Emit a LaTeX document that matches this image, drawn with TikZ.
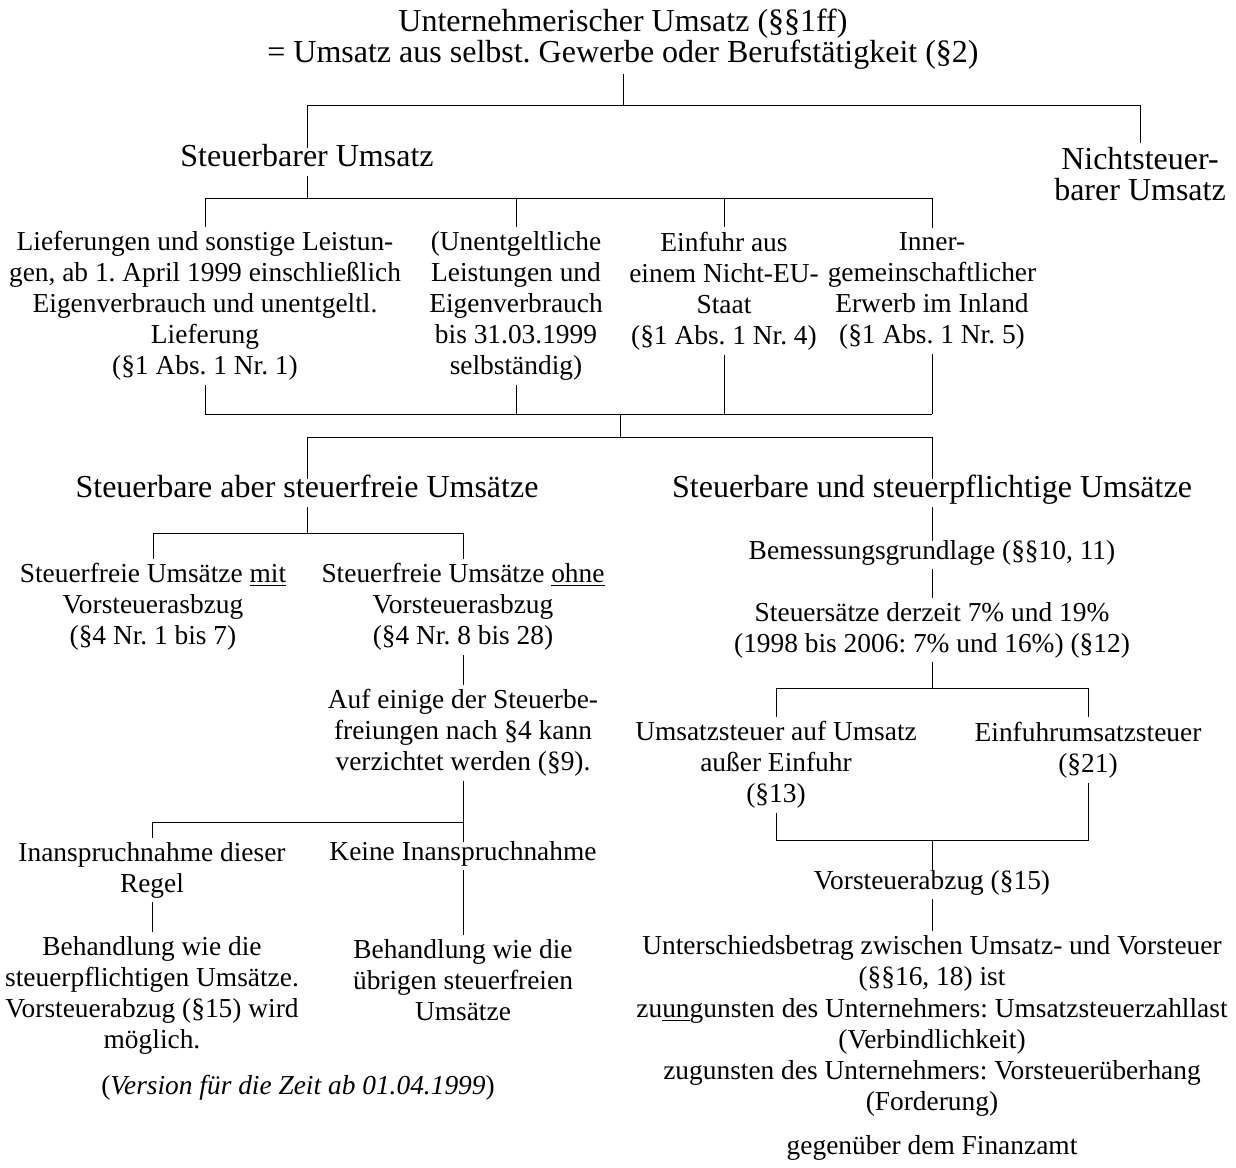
\documentclass[tikz,border=0pt]{standalone}
\usepackage{fontspec}
\setmainfont{Liberation Serif}
\frenchspacing
\begin{document}
\begin{tikzpicture}[x=0.5pt,y=-0.5pt,line width=0.5pt]
	\tikzset{txt/.style={align=center,inner sep=2pt,font=\fontsize{13.7}{15.5}\selectfont},
		hd/.style={align=center,inner sep=2pt,font=\fontsize{16}{15.5}\selectfont},
		one/.style={text height=0.72em,text depth=0.24em}}
	\useasboundingbox(0,0)rectangle(1236,1167);
	% obere Ebenen
	\path(623,39)node[hd](titel){Unternehmerischer Umsatz (§§1ff)\\= Umsatz aus selbst. Gewerbe oder Berufstätigkeit (§2)};
	\path(307,162)node[hd,one](stb){Steuerbarer Umsatz};
	\path(1140,174)node[hd](nstb){Nichtsteuer-\\barer Umsatz};
	\path(205,306)node[txt](lief){Lieferungen und sonstige Leistun-\\gen, ab 1. April 1999 einschließlich\\Eigenverbrauch und unentgeltl.\\Lieferung\\(§1 Abs. 1 Nr. 1)};
	\path(516,306)node[txt](unent){(Unentgeltliche\\Leistungen und\\Eigenverbrauch\\bis 31.03.1999\\selbständig)};
	\path(724,291)node[txt](einf){Einfuhr aus\\einem Nicht-EU-\\Staat\\(§1 Abs. 1 Nr. 4)};
	\path(932,291)node[txt](inner){Inner-\\gemeinschaftlicher\\Erwerb im Inland\\(§1 Abs. 1 Nr. 5)};
	\path(307,493)node[hd,one](frei){Steuerbare aber steuerfreie Umsätze};
	\path(932,493)node[hd,one](pfl){Steuerbare und steuerpflichtige Umsätze};
	% linker Zweig
	\path(153,607)node[txt](mit){Steuerfreie Umsätze \underline{mit}\\Vorsteuerasbzug\\(§4 Nr. 1 bis 7)};
	\path(463,607)node[txt](ohne){Steuerfreie Umsätze \underline{ohne}\\Vorsteuerasbzug\\(§4 Nr. 8 bis 28)};
	\path(463,733)node[txt](verz){Auf einige der Steuerbe-\\freiungen nach §4 kann\\verzichtet werden (§9).};
	\path(152,870)node[txt](inan){Inanspruchnahme dieser\\Regel};
	\path(463,856)node[txt,one](keine){Keine Inanspruchnahme};
	\path(152,995)node[txt](behA){Behandlung wie die\\steuerpflichtigen Umsätze.\\Vorsteuerabzug (§15) wird\\möglich.};
	\path(463,980)node[txt](behB){Behandlung wie die\\übrigen steuerfreien\\Umsätze};
	\path(298,1090)node[txt,one](version){(\textit{Version für die Zeit ab 01.04.1999})};
	% rechter Zweig
	\path(932,555)node[txt,one](bem){Bemessungsgrundlage (§§10, 11)};
	\path(932,630)node[txt](satz){Steuersätze derzeit 7\% und 19\%\\(1998 bis 2006: 7\% und 16\%) (§12)};
	\path(776,765)node[txt](ust){Umsatzsteuer auf Umsatz\\außer Einfuhr\\(§13)};
	\path(1088,750)node[txt](eust){Einfuhrumsatzsteuer\\(§21)};
	\path(932,885)node[txt,one](vst){Vorsteuerabzug (§15)};
	\path(932,963)node[txt](diff){Unterschiedsbetrag zwischen Umsatz- und Vorsteuer\\(§§16, 18) ist};
	\path(932,1057)node[txt](last){zu\underline{un}gunsten des Unternehmers: Umsatzsteuerzahllast\\(Verbindlichkeit)\\zugunsten des Unternehmers: Vorsteuerüberhang\\(Forderung)};
	\path(932,1150)node[txt,one](fa){gegenüber dem Finanzamt};
	% Verzweigungen
	\coordinate(j1)at(623,105);
	\coordinate(j2)at(307,198);
	\coordinate(j3)at(620,414);
	\coordinate(j4)at(620,437);
	\coordinate(j5)at(307,533);
	\coordinate(j6)at(463,822);
	\coordinate(j7)at(932,688);
	\coordinate(j8)at(932,840);
	\draw(titel.south)--(j1)-|(stb.north);
	\draw(j1)-|(nstb.north);
	\draw(stb.south)--(j2);
	\foreach \n in {lief,unent,einf,inner}
	\draw(j2)-|(\n.north);
	\foreach \n in {lief,unent,einf,inner}
	\draw(\n.south)--(\n.south|-j3);
	\draw(lief.south|-j3)--(inner.south|-j3);
	\draw(j3)--(j4)-|(frei.north);
	\draw(j4)-|(pfl.north);
	\draw(frei.south)--(j5)-|(mit.north);
	\draw(j5)-|(ohne.north);
	\draw(ohne.south)--(verz.north);
	\draw(verz.south)--(keine.north);
	\draw(j6)-|(inan.north);
	\draw(inan.south)--(behA.north);
	\draw(keine.south)--(behB.north);
	\draw(pfl.south)--(bem.north);
	\draw(bem.south)--(satz.north);
	\draw(satz.south)--(j7)-|(ust.north);
	\draw(j7)-|(eust.north);
	\draw(ust.south)|-(j8);
	\draw(eust.south)|-(j8);
	\draw(j8)--(vst.north);
	\draw(vst.south)--(diff.north);
\end{tikzpicture}
\end{document}
